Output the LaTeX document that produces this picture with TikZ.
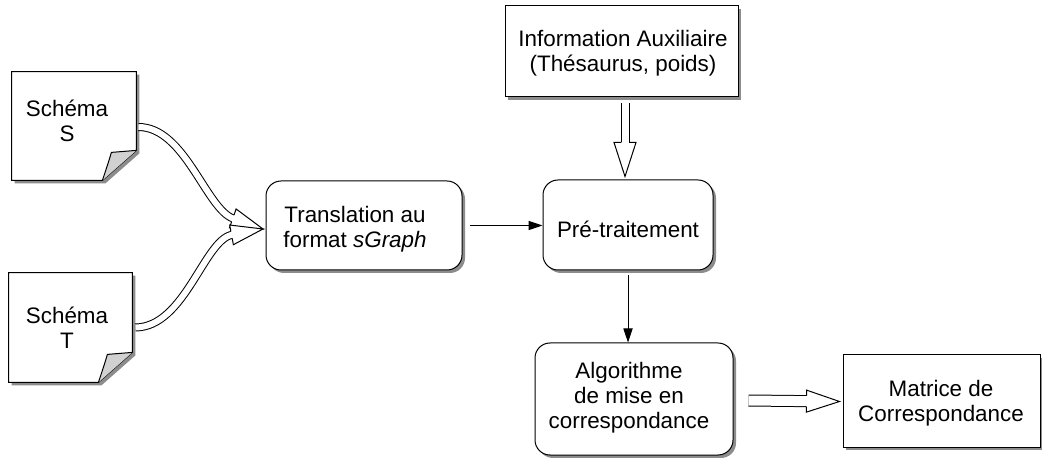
\documentclass[tikz,border=0pt]{standalone}
\usepackage{fontspec}
\setmainfont{Liberation Sans}
\usetikzlibrary{arrows.meta,shadows,decorations.markings,calc}
\newcommand{\hollowhead}[3]{%
  \fill[white] (0pt,0pt) -- (-#1,#2) -- (-#1,-#2) -- cycle;
  \draw[line join=miter, line width=0.5pt] (-#1,#3) -- (-#1,#2) -- (0pt,0pt) -- (-#1,-#2) -- (-#1,-#3);}
\tikzset{
  lbl/.style={font=\fontsize{11.2}{12.5}\selectfont, align=center, inner sep=0pt},
  shad/.style={drop shadow={shadow xshift=1.5pt, shadow yshift=-1.5pt, fill=black!45, opacity=1}},
  roundbox/.style={draw, line width=0.5pt, fill=white, rounded corners=7.5pt, shad},
  sqbox/.style={draw, line width=0.5pt, fill=white, shad},
  pagebox/.style={draw=none, inner sep=0pt},
  shaft/.style={draw, line width=0.5pt, double=white, double distance=#1},
  arr/.style={line width=0.5pt, -{Triangle[length=7pt, width=4.6pt]}},
}
\begin{document}
\begin{tikzpicture}[x=0.5pt, y=-0.5pt]
\useasboundingbox (0,0) rectangle (1042,458);
% pages
\node[pagebox, minimum width=62pt, minimum height=54pt] (S) at (74,126) {};
\node[pagebox, minimum width=61.5pt, minimum height=54.5pt] (T) at (70.5,327.5) {};
\draw[fill=white, line width=0.5pt, shad] (S.north west) -- (S.north east) -- ($(S.south east)+(0,-30)$) -- ($(S.south east)+(-34,0)$) -- (S.south west) -- cycle;
\fill[black!18] ($(S.south east)+(0,-30)$) -- ($(S.south east)+(-25,-28)$) .. controls ($(S.south east)+(-28,-18)$) .. ($(S.south east)+(-34,0)$) -- cycle;
\draw[line width=0.5pt] ($(S.south east)+(0,-30)$) -- ($(S.south east)+(-25,-28)$) .. controls ($(S.south east)+(-28,-18)$) .. ($(S.south east)+(-34,0)$);
\draw[fill=white, line width=0.5pt, shad] (T.north west) -- (T.north east) -- ($(T.south east)+(0,-30)$) -- ($(T.south east)+(-34,0)$) -- (T.south west) -- cycle;
\fill[black!18] ($(T.south east)+(0,-30)$) -- ($(T.south east)+(-25,-28)$) .. controls ($(T.south east)+(-28,-18)$) .. ($(T.south east)+(-34,0)$) -- cycle;
\draw[line width=0.5pt] ($(T.south east)+(0,-30)$) -- ($(T.south east)+(-25,-28)$) .. controls ($(T.south east)+(-28,-18)$) .. ($(T.south east)+(-34,0)$);
\node[lbl] (Stxt) at (67,121) {Schéma\\S};
\node[lbl] (Ttxt) at (67,328) {Schéma\\T};
% boxes
\node[roundbox, minimum width=98pt, minimum height=44.5pt] (tr) at (364,225.5) {};
\node[lbl] (trtxt) at (355,229) {Translation au\\format \textit{sGraph}};
\node[roundbox, minimum width=85pt, minimum height=45pt] (pre) at (628,225) {};
\node[lbl] (pretxt) at (628,229) {Pré-traitement};
\node[sqbox, minimum width=116.5pt, minimum height=45.5pt] (info) at (621.5,51.5) {};
\node[lbl] (infotxt) at (623,53) {Information Auxiliaire\\(Thésaurus, poids)};
\node[roundbox, minimum width=99pt, minimum height=56pt] (algo) at (634,399) {};
\node[lbl] (algotxt) at (629,398) {Algorithme\\de mise en\\correspondance};
\node[sqbox, minimum width=98.5pt, minimum height=46pt] (mat) at (941.5,401) {};
\node[lbl] (mattxt) at (941,403) {Matrice de\\Correspondance};
% plain arrows
\draw[arr] (tr.east) ++(7,0) coordinate (trE) -- (trE -| pre.west);
\draw[arr] (pre.south) ++(0,5) coordinate (preS) -- (preS |- algo.north);
% hollow arrows
\draw[shaft=3pt, shorten >=15.7pt] ($(S.east)+(2,1)$) .. controls (185,127) and (206,209) .. (263,229);
\path[decorate, decoration={markings, mark=at position 0.9999 with {\hollowhead{16pt}{5pt}{1.75pt}}}] ($(S.east)+(2,1)$) .. controls (185,127) and (206,209) .. (263,229);
\draw[shaft=3pt, shorten >=15.7pt] ($(T.east)+(3,0)$) .. controls (185,327) and (204,240) .. (263,229);
\path[decorate, decoration={markings, mark=at position 0.9999 with {\hollowhead{16pt}{5pt}{1.75pt}}}] ($(T.east)+(3,0)$) .. controls (185,327) and (204,240) .. (263,229);
\draw[shaft=3.5pt, shorten >=16.7pt] ($(info.south)+(3.5,6)$) -- ($(pre.north)+(-3,-3)$);
\path[decorate, decoration={markings, mark=at position 0.9999 with {\hollowhead{17pt}{5.5pt}{2pt}}}] ($(info.south)+(3.5,6)$) -- ($(pre.north)+(-3,-3)$);
\draw[shaft=5pt, shorten >=16.2pt] ($(algo.east)+(15,1.5)$) -- ($(mat.west)+(-3,0.5)$);
\path[decorate, decoration={markings, mark=at position 0.9999 with {\hollowhead{16.5pt}{5.5pt}{2.75pt}}}] ($(algo.east)+(15,1.5)$) -- ($(mat.west)+(-3,0.5)$);
\end{tikzpicture}
\end{document}
